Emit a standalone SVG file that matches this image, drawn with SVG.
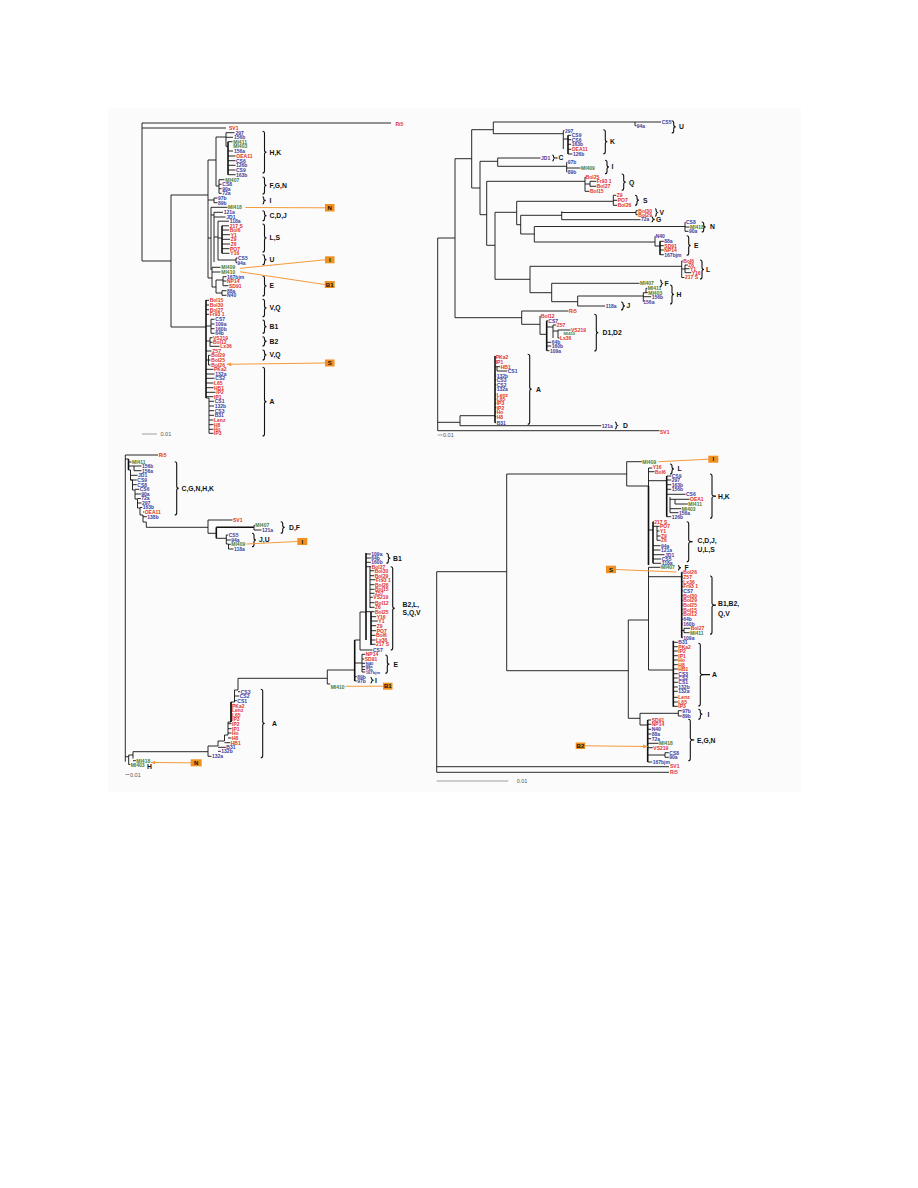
<svg xmlns="http://www.w3.org/2000/svg" width="918" height="1188" viewBox="0 0 918 1188">
<style>
.t{fill:none;stroke:#111;stroke-width:0.9}
.tk{fill:none;stroke:#111;stroke-width:1.6}
.br{fill:none;stroke:#111;stroke-width:1.1}
text{font-family:"Liberation Sans",Arial,sans-serif}
.lf text{font-size:5px;font-weight:bold}
.r{fill:#e2322b}.b{fill:#3d3d9e}.g{fill:#4e7b30}
.cl{font-size:6.8px;font-weight:bold;fill:#111}
.ob{fill:#f0901e}
.obt{font-size:6px;font-weight:bold;fill:#111;text-anchor:middle}
.oa{fill:none;stroke:#f39b3a;stroke-width:1}
.sc{stroke:#888;stroke-width:0.8}
.sct{font-size:5.5px;fill:#555}
.sm{font-size:4.2px!important}
</style>
<defs>
<marker id="ah" markerWidth="5" markerHeight="4" refX="4.5" refY="2" orient="auto" markerUnits="userSpaceOnUse"><path d="M0,0L5,2L0,4z" fill="#f39b3a"/></marker>
</defs>
<rect width="918" height="1188" fill="#fff"/>
<rect x="108" y="108" width="693" height="684" fill="#fbfbfb"/>

<!-- ===== TOP LEFT ===== -->
<g id="tl-tree">
<path class="t" d="M142,123V261M142,123H391M142,128H226M142,261H171M171,195V327M171,195H208M171,327H206M208,160V278M208,160H216M216,137V186M216,137H226M226,132.7V146.3M226,132.7H234.5M226,137.3H233M226,146.3H228M228,141.7H232.5M228,151H233M228,156H235.5M228,160.7H235.5M228,165.3H235.5M228,170H235.5M228,174.7H235.5M216,186H219M219,179.7V193.3M219,179.7H224.5M219,184.3H221.5M219,188.7H221.5M219,193.3H221.5M208,200H214M214,198V202.7M214,198H217.5M214,202.7H217.5M208,238H211M211,207.3V270M211,207.3H227.5M211,215H214M214,212.3V262M214,212.3H223M214,217H225.5M214,237H218M218,221.2V260M218,221.2H229M218,238H222M222,225.8H229M222,230H229M222,234.7H230M222,239.3H230M222,244H230M222,248.7H229.5M222,253.3H229.5M218,260H236M236,258V262.7M236,258H237.5M236,262.7H237M208,278H212M212,267.3V287M212,267.3H220.5M212,272H220.5M212,287H216M216,280V293M216,280H223M223,276.7V285.7M223,276.7H226.5M223,281H226.5M223,285.7H228.5M216,293H222M222,290.7V295.3M222,290.7H226.5M222,295.3H226.5M206,300.3H209M206,305H209M206,309.7H209M206,314.3H209M206,326H211M211,319.3V333.3M211,319.3H214.5M211,324H214.5M211,328.7H214.5M211,333.3H214.5M206,341H210M210,337.7V346.3M210,337.7H212.5M210,342.3H212.5M210,346.3H219.5M206,351H211.5M206,360H208.5M208.5,355.3V365M208.5,355.3H210.5M208.5,360H210.5M208.5,365H210.5M206,369.3H213.5M206,374H214.5M206,378.3H214.5M206,383H213.5M206,387.7H213.5M206,392.3H215.5M206,396.7H213.5M206,398H209M209,398V433.3M209,401.3H214M209,406H214M209,410.7H214M209,415.3H214M209,420H213.5M209,424.7H213.5M209,429.3H213.5M209,433.3H213.5"/>
<path class="tk" d="M228,141.7V174.7M222,225.8V253.3M206,300V398"/>
</g>
<g id="tl-leaves" class="lf">
<text x="395.5" y="125.8" class="r">Ri5</text>
<text x="229" y="130.3" class="r">SV1</text>
<text x="235.5" y="134.5" class="b">297</text>
<text x="234" y="139.1" class="b">156b</text>
<text x="233.3" y="143.5" class="g">MI411</text>
<text x="233.3" y="148.1" class="g">MI403</text>
<text x="234" y="152.8" class="b">156a</text>
<text x="236.3" y="157.8" class="r">OEA11</text>
<text x="236" y="162.5" class="b">CS6</text>
<text x="236" y="167.1" class="b">126b</text>
<text x="236" y="171.8" class="b">CS9</text>
<text x="236" y="176.5" class="b">163b</text>
<text x="225.3" y="181.5" class="g">MI407</text>
<text x="222.3" y="186.1" class="b">CS8</text>
<text x="222.3" y="190.5" class="b">90a</text>
<text x="222.3" y="195.1" class="b">72a</text>
<text x="218" y="199.8" class="b">97b</text>
<text x="218" y="204.5" class="b">89b</text>
<text x="228" y="209.1" class="g">MI418</text>
<text x="223.7" y="214.1" class="b">121a</text>
<text x="226.3" y="218.6" class="b">JD1</text>
<text x="229.7" y="222.9" class="b">118a</text>
<text x="229.7" y="227.7" class="r">217 S</text>
<text x="229.7" y="232.1" class="r">Bol6</text>
<text x="230.7" y="236.6" class="r">Y1</text>
<text x="230.7" y="241.1" class="r">Z9</text>
<text x="230.7" y="245.8" class="r">Z6</text>
<text x="230" y="250.5" class="r">PO7</text>
<text x="230.3" y="255.1" class="r">Y16</text>
<text x="238" y="259.8" class="b">CS5</text>
<text x="237.3" y="264.5" class="b">94a</text>
<text x="221.3" y="269.1" class="g">MI409</text>
<text x="221.3" y="273.8" class="g">MI410</text>
<text x="227" y="278.5" class="b">167bjm</text>
<text x="227" y="282.8" class="r">NP14</text>
<text x="229" y="287.5" class="r">SD91</text>
<text x="227" y="292.5" class="b">88a</text>
<text x="227" y="297.1" class="b">N40</text>
<text x="209.7" y="302.1" class="r">Bol15</text>
<text x="209.7" y="306.8" class="r">Bol30</text>
<text x="209.7" y="311.5" class="r">Bol27</text>
<text x="209.7" y="316.1" class="r">Fr93 1</text>
<text x="215.3" y="321.1" class="b">CS7</text>
<text x="215.3" y="325.8" class="b">109a</text>
<text x="215.3" y="330.5" class="b">160b</text>
<text x="215.3" y="335.1" class="b">64b</text>
<text x="213" y="339.5" class="r">VS219</text>
<text x="213" y="344.1" class="r">Bol12</text>
<text x="220.3" y="348.1" class="r">Lx36</text>
<text x="212.3" y="352.8" class="r">Z57</text>
<text x="211.3" y="357.1" class="r">Bol29</text>
<text x="211.3" y="361.8" class="r">Bol25</text>
<text x="211.3" y="366.8" class="r">Bol26</text>
<text x="214" y="371.1" class="r">PKa2</text>
<text x="215.3" y="375.8" class="b">132a</text>
<text x="215.3" y="380.1" class="b">CS2</text>
<text x="214" y="384.8" class="r">L65</text>
<text x="214" y="389.5" class="r">HB1</text>
<text x="216.3" y="394.1" class="r">IP2</text>
<text x="214" y="398.5" class="r">IP1</text>
<text x="214.7" y="403.1" class="b">CS1</text>
<text x="214.7" y="407.8" class="b">132b</text>
<text x="214.7" y="412.5" class="b">CS3</text>
<text x="214.7" y="417.1" class="b">B31</text>
<text x="214" y="421.8" class="r">Lenz</text>
<text x="214" y="426.5" class="r">H8</text>
<text x="214" y="431.1" class="r">Ho</text>
<text x="214" y="435.1" class="r">IP3</text>
</g>
<g id="tl-brackets">
<path class="br" d="M262.5,131.3Q264.5,131.3 264.5,133.3V150.2Q264.5,152.2 266.5,152.2Q264.5,152.2 264.5,154.2V171Q264.5,173 262.5,173M262.5,177Q264.5,177 264.5,179V183.5Q264.5,185.5 266.5,185.5Q264.5,185.5 264.5,187.5V192Q264.5,194 262.5,194M262.5,196.7Q263.7,196.7 263.7,197.9V199.15Q263.7,200.35 265.7,200.35Q263.7,200.35 263.7,201.55V202.8Q263.7,204 262.5,204M262.5,210.7Q264.5,210.7 264.5,212.7V213.7Q264.5,215.7 266.5,215.7Q264.5,215.7 264.5,217.7V218.7Q264.5,220.7 262.5,220.7M262.5,224Q264.5,224 264.5,226V236Q264.5,238 266.5,238Q264.5,238 264.5,240V250Q264.5,252 262.5,252M262.5,254.7Q264.5,254.7 264.5,256.7V257.7Q264.5,259.7 266.5,259.7Q264.5,259.7 264.5,261.7V262.7Q264.5,264.7 262.5,264.7M262.5,276Q264.5,276 264.5,278V284Q264.5,286 266.5,286Q264.5,286 264.5,288V294Q264.5,296 262.5,296M262.5,299.3Q264.5,299.3 264.5,301.3V306Q264.5,308 266.5,308Q264.5,308 264.5,310V314.7Q264.5,316.7 262.5,316.7M262.5,320Q264.5,320 264.5,322V324.65Q264.5,326.65 266.5,326.65Q264.5,326.65 264.5,328.65V331.3Q264.5,333.3 262.5,333.3M262.5,336.7Q264.5,336.7 264.5,338.7V339.35Q264.5,341.35 266.5,341.35Q264.5,341.35 264.5,343.35V344Q264.5,346 262.5,346M262.5,350Q264.5,350 264.5,352V353Q264.5,355 266.5,355Q264.5,355 264.5,357V358Q264.5,360 262.5,360M262.5,367.3Q264.5,367.3 264.5,369.3V399.65Q264.5,401.65 266.5,401.65Q264.5,401.65 264.5,403.65V434Q264.5,436 262.5,436"/>
<text class="cl" x="269.5" y="154.6">H,K</text>
<text class="cl" x="269.5" y="187.9">F,G,N</text>
<text class="cl" x="269.5" y="202.75">I</text>
<text class="cl" x="269.5" y="218.1">C,D,J</text>
<text class="cl" x="269.5" y="240.4">L,S</text>
<text class="cl" x="269.5" y="262.1">U</text>
<text class="cl" x="269.5" y="288.4">E</text>
<text class="cl" x="269.5" y="310.4">V,Q</text>
<text class="cl" x="269.5" y="329">B1</text>
<text class="cl" x="269.5" y="343.75">B2</text>
<text class="cl" x="269.5" y="357.4">V,Q</text>
<text class="cl" x="269.5" y="404">A</text>
</g>
<g id="tl-markers">
<path class="oa" marker-end="url(#ah)" d="M325,207.8L245.5,207.5M325,259.8L240,268.3M324.7,284.5L240,271.8M325,363L227,364.3"/>
<g id="tl-box-N"><rect class="ob" x="325" y="204" width="9.5" height="7.5"/><text class="obt" x="329.75" y="210">N</text></g>
<g id="tl-box-I"><rect class="ob" x="325" y="256.3" width="9.5" height="7"/><text class="obt" x="329.75" y="262">I</text></g>
<g id="tl-box-B1"><rect class="ob" x="324.7" y="281" width="10" height="7"/><text class="obt" x="329.7" y="286.6">B1</text></g>
<g id="tl-box-S"><rect class="ob" x="325" y="359.5" width="9.5" height="7"/><text class="obt" x="329.75" y="365.2">S</text></g>
</g>
<g id="tl-scale"><line class="sc" x1="142" y1="434" x2="157" y2="434"/><text class="sct" x="160.5" y="436">0.01</text></g>

<!-- ===== TOP RIGHT ===== -->
<g id="tr-tree">
<path class="t" d="M437.7,238V430.7M437.7,238H455M455,158.7V317.7M455,158.7H471.7M471.7,129.7V188M471.7,129.7H493.3M493.3,122V133.7M493.3,122H635M635,122V125.7M635,122H661M635,125.7H636.5M493.3,133.7H563.3M563.3,130.7V149M563.3,130.7H564.5M563.3,139H568M568,135.3H571.2M568,139.7H571.2M568,144.3H571.2M568,149.3H571.2M568,154H572.5M471.7,188H480M480,161.3V214.7M480,161.3H497.7M497.7,158V166.3M497.7,158H540.5M497.7,166.3H566.7M566.7,162.3V172M566.7,162.3H567.2M566.7,168H580.5M566.7,172H567.2M480,214.7H486.7M486.7,181.3V245.3M486.7,181.3H585M585,177V191.3M585,177H585.5M585,184H590M590,181.3V186.3M590,181.3H596.2M590,186.3H596.2M585,191.3H589.5M486.7,245.3H495M495,212.3V279.3M495,212.3H516.7M516.7,201.3V224.7M516.7,201.3H613.3M613.3,195.3V205.3M613.3,195.3H616.2M613.3,200.3H617.2M613.3,205.3H617.2M516.7,224.7H520.7M520.7,215.3V234M520.7,215.3H561.7M561.7,211.3V219.7M561.7,212.5H636M636,210.7V214.7M636,210.7H637.8M636,214.7H637.8M561.7,219.7H640.5M520.7,234H534.3M534.3,226.5V242M534.3,226.5H685M685,222.3V231.3M685,222.3H685.5M685,227H689.5M685,231.3H688.5M534.3,242H655M655,236.3V246M655,236.3H655.3M655,246H660M660,241.3H663.8M660,245.7H663.8M660,250H663.8M660,254.7H663.8M495,279.3H530M530,266.3V292.7M530,266.3H681.7M681.7,261V277.5M681.7,261H682.8M681.7,277.5H684.5M681.7,269H685M685,265V272.7M685,265H687.8M685,268.7H689.5M685,272.7H691.2M530,292.7H551.7M551.7,283.3V301.7M551.7,283.3H639.5M551.7,301.7H577.7M577.7,296V306M577.7,296H643.3M643.3,292.7V301.7M643.3,292.7H647.8M643.3,296.7H651.2M643.3,301.7H643.5M646,288.3V292.7M646,288.3H647.2M577.7,306H605.2M455,317.7H521.7M521.7,311V324.3M521.7,311H568.5M521.7,324.3H540M540,316V334.3M540,316H540.5M540,334.3H546.7M546.7,320.7H547.8M546.7,327H553M553,325V338M553,325H556.2M553,331H558M558,330V338M558,330H570.5M558,338H559.5M546.7,342.3H551.2M546.7,346H551.2M546.7,350.7H549.5M437.7,422.3H460M460,415.7V425.7M460,415.7H495M495,357.3H495.2M495,361.7H495.2M495,366.7H497M497,366.7V371M497,366.7H500.2M497,371H507.2M495,376H496.2M495,380H496.2M495,384.7H496.2M495,389H496.2M495,394.7H496.2M495,399H496.2M495,403.3H496.2M495,407.7H496.2M495,412H496.2M495,416.7H496.2M495,422.7H496.2M460,425.7H601.2M437.7,430.7H659.5"/>
<path class="tk" d="M568,135.3V154M546.7,320.7V350.7M495,356V422.7M660,241.3V254.7"/>
</g>
<g id="tr-leaves" class="lf">
<text x="661.7" y="123.8" class="b">CS5</text>
<text x="636.7" y="127.5" class="b">94a</text>
<text x="565" y="132.5" class="b">297</text>
<text x="571.7" y="137.1" class="b">CS9</text>
<text x="571.7" y="141.5" class="b">CS6</text>
<text x="571.7" y="146.1" class="b">163b</text>
<text x="571.7" y="151.1" class="r">OEA11</text>
<text x="573" y="155.8" class="b">126b</text>
<text x="541" y="159.8" class="b">JD1</text>
<text x="567.7" y="164.1" class="b">97b</text>
<text x="581" y="169.8" class="g">MI409</text>
<text x="567.7" y="173.8" class="b">89b</text>
<text x="585.7" y="178.8" class="r">Bol25</text>
<text x="596.7" y="183.1" class="r">Fr93 1</text>
<text x="596.7" y="188.1" class="r">Bol27</text>
<text x="590" y="193.1" class="r">Bol15</text>
<text x="616.7" y="197.1" class="r">Z9</text>
<text x="617.7" y="202.1" class="r">PO7</text>
<text x="617.7" y="207.1" class="r">Bol26</text>
<text x="638.3" y="212.5" class="r">Bol30</text>
<text x="638.3" y="216.5" class="r">Bol29</text>
<text x="641" y="221.1" class="b">72a</text>
<text x="686" y="224.1" class="b">CS8</text>
<text x="690" y="228.8" class="g">MI418</text>
<text x="689" y="233.1" class="b">90a</text>
<text x="655.7" y="238.1" class="b">N40</text>
<text x="664.3" y="243.1" class="b">88a</text>
<text x="664.3" y="247.5" class="r">SD91</text>
<text x="664.3" y="251.8" class="r">NP14</text>
<text x="664.3" y="256.5" class="b">167bjm</text>
<text x="683.3" y="262.8" class="r">Bol6</text>
<text x="688.3" y="266.8" class="r">Z6</text>
<text x="690" y="270.5" class="r">Y1</text>
<text x="691.7" y="274.5" class="r">Y16</text>
<text x="685" y="279.3" class="r">217 S</text>
<text x="640" y="285.1" class="g">MI407</text>
<text x="647.7" y="290.1" class="g">MI411</text>
<text x="648.3" y="294.5" class="g">MI403</text>
<text x="651.7" y="298.5" class="b">156b</text>
<text x="643.3" y="303.5" class="b">156a</text>
<text x="605.7" y="307.8" class="b">118a</text>
<text x="569" y="312.8" class="r">Ri5</text>
<text x="541" y="317.8" class="r">Bol12</text>
<text x="548.3" y="322.5" class="b">CS7</text>
<text x="556.7" y="326.8" class="r">Z57</text>
<text x="571" y="331.8" class="r">VS219</text>
<text x="563.5" y="335" class="g sm">MI410</text>
<text x="560" y="339.8" class="r">Lx36</text>
<text x="551.7" y="344.1" class="b">64b</text>
<text x="551.7" y="347.8" class="b">160b</text>
<text x="550" y="352.5" class="b">109a</text>
<text x="495.7" y="359.1" class="r">PKa2</text>
<text x="495.7" y="363.5" class="r">IP1</text>
<text x="500.7" y="368.5" class="r">HB1</text>
<text x="507.7" y="372.8" class="b">CS1</text>
<text x="496.7" y="377.8" class="b">132b</text>
<text x="496.7" y="381.8" class="b">CS3</text>
<text x="496.7" y="386.5" class="b">CS2</text>
<text x="496.7" y="390.8" class="b">132a</text>
<text x="496.7" y="396.5" class="r">Lenz</text>
<text x="496.7" y="400.8" class="r">L65</text>
<text x="496.7" y="405.1" class="r">IP3</text>
<text x="496.7" y="409.5" class="r">IP2</text>
<text x="496.7" y="413.8" class="r">Ho</text>
<text x="496.7" y="418.5" class="r">H8</text>
<text x="496.7" y="424.5" class="b">B31</text>
<text x="601.7" y="427.5" class="b">121a</text>
<text x="660" y="433.5" class="r">SV1</text>
</g>
<g id="tr-brackets">
<path class="br" d="M671.7,120.7Q673.7,120.7 673.7,122.7V124.85Q673.7,126.85 675.7,126.85Q673.7,126.85 673.7,128.85V131Q673.7,133 671.7,133M603.3,129.7Q605.3,129.7 605.3,131.7V139.7Q605.3,141.7 607.3,141.7Q605.3,141.7 605.3,143.7V151.7Q605.3,153.7 603.3,153.7M552.3,155Q553.5,155 553.5,156.2V156.8Q553.5,158 555.5,158Q553.5,158 553.5,159.2V159.8Q553.5,161 552.3,161M605,160.3Q607,160.3 607,162.3V165Q607,167 609,167Q607,167 607,169V171.7Q607,173.7 605,173.7M621.7,174Q623.7,174 623.7,176V180.15Q623.7,182.15 625.7,182.15Q623.7,182.15 623.7,184.15V188.3Q623.7,190.3 621.7,190.3M635,195.3Q637,195.3 637,197.3V198.3Q637,200.3 639,200.3Q637,200.3 637,202.3V203.3Q637,205.3 635,205.3M655,208.7Q656.2,208.7 656.2,209.9V211.3Q656.2,212.5 658.2,212.5Q656.2,212.5 656.2,213.7V215.1Q656.2,216.3 655,216.3M651.5,216.8Q652.7,216.8 652.7,218V218.2Q652.7,219.4 654.7,219.4Q652.7,219.4 652.7,220.6V220.8Q652.7,222 651.5,222M701.7,222Q703.7,222 703.7,224V225Q703.7,227 705.7,227Q703.7,227 703.7,229V230Q703.7,232 701.7,232M686.7,235.7Q688.7,235.7 688.7,237.7V243.5Q688.7,245.5 690.7,245.5Q688.7,245.5 688.7,247.5V253.3Q688.7,255.3 686.7,255.3M700,260Q702,260 702,262V267.5Q702,269.5 704,269.5Q702,269.5 702,271.5V277Q702,279 700,279M660,280Q661.2,280 661.2,281.2V282.3Q661.2,283.5 663.2,283.5Q661.2,283.5 661.2,284.7V285.8Q661.2,287 660,287M670,285Q672,285 672,287V292.5Q672,294.5 674,294.5Q672,294.5 672,296.5V302Q672,304 670,304M621,302Q623,302 623,304V304Q623,306 625,306Q623,306 623,308V308Q623,310 621,310M594.3,314.3Q596.3,314.3 596.3,316.3V330.65Q596.3,332.65 598.3,332.65Q596.3,332.65 596.3,334.65V349Q596.3,351 594.3,351M527.7,354.3Q529.7,354.3 529.7,356.3V387.3Q529.7,389.3 531.7,389.3Q529.7,389.3 529.7,391.3V422.3Q529.7,424.3 527.7,424.3M615,422Q616.2,422 616.2,423.2V424.3Q616.2,425.5 618.2,425.5Q616.2,425.5 616.2,426.7V427.8Q616.2,429 615,429"/>
<path class="br" d="M555.5,158H557.5"/>
<text class="cl" x="679" y="129.25">U</text>
<text class="cl" x="610" y="144.1">K</text>
<text class="cl" x="558.5" y="160.4">C</text>
<text class="cl" x="611.5" y="169.4">I</text>
<text class="cl" x="629" y="184.55">Q</text>
<text class="cl" x="643" y="202.7">S</text>
<text class="cl" x="659.5" y="214.9">V</text>
<text class="cl" x="656" y="221.8">G</text>
<text class="cl" x="710" y="229.4">N</text>
<text class="cl" x="694" y="247.9">E</text>
<text class="cl" x="706" y="271.9">L</text>
<text class="cl" x="664.5" y="285.9">F</text>
<text class="cl" x="676.5" y="296.9">H</text>
<text class="cl" x="626.5" y="308.4">J</text>
<text class="cl" x="602.5" y="335.05">D1,D2</text>
<text class="cl" x="536" y="391.7">A</text>
<text class="cl" x="623" y="427.9">D</text>
</g>
<g id="tr-scale"><line class="sc" x1="437.7" y1="435" x2="442.5" y2="435"/><text class="sct" x="443" y="437">0.01</text></g>

<!-- ===== BOTTOM LEFT ===== -->
<g id="bl-tree">
<path class="t" d="M125.3,455V761.7M125.3,455H158M125.3,459H128.5V470H130.5V480H132.5V490H135V499H137.5V508H140V515H143V522H146.3V527.3M128.5,462H131.5M128.5,466H134M134,466V470.7M134,466H141.5M134,470.7H141.5M130.5,475.3H137.5M130.5,480H136.8M132.5,484.7H136.8M135,489.3H139.2M135,494H140.8M137.5,498.5H140.8M137.5,503H141.5M140,507.5H142.2M143,512H144.2M143,516.7H146.8M146.3,527.3H208M208,520V533.3M208,520H232.5M208,533.3H216.3M254,525.3V530M254,525.3H254.8M254,530H261.5M216.3,538.3H226.3M226.3,535V544M226.3,535H228.2M226.3,540H230.8M226.3,544H228.5M228.5,544V549M228.5,544.3H230.8M228.5,549H233.5M125.3,756.7H128.7M128.7,755V764.5M128.7,755H133M133,751.7V758.5M133,751.7H208M133,760.7H135.8M128.7,764.5H130.2M208,756.3V746H218V741H224.5V735H228V722H231V702H234.5V690H238V678.3H327.3M208,756.3H211.5M218,751.3H220.8M218,747.3H225.8M224.5,742.7H230.2M228,738H231.5M228,733H231.5M228,728.7H231.5M228,723.7H231.5M234.5,700.7H236.8M234.5,696H239.2M238,691.7H240.2M327.3,670V684M327.3,684H330.2M327.3,670H354.7M354.7,676.7H356.8M354.7,681H356.8M354.7,663H362M362,654.3V672M362,654.3H365.2M362,659H364.2M362,663.3H365.2M362,666.7H365.2M362,669.5H365.2M362,672H365.2M354.7,640H360M360,612V650M360,612H366M360,650H372.5M366,554H370.8M366,558H370.8M366,562.3H370.8M366,566.7H371.2M370,566.7V608M370,570.7H374.2M370,575.7H374.2M370,579.7H375.5M370,584.7H374.5M370,589.3H374.5M370,593.3H374.5M370,597.3H372.8M370,602.7H374.5M370,607.3H374.5M366,611.7H371M371,611.7H374.5M371,616.7H376.2M371,621H377.8M371,625.7H376.2M371,630.7H376.2M371,635.3H375.5M371,640H375.5M371,644.3H375.5"/>
<path class="tk" d="M216.3,527.3V538.3M216.3,527.3H254M128.5,459V470M366,553V640M371,611.7V645M231,702V722M354.7,640V681"/>
</g>
<g id="bl-leaves" class="lf">
<text x="158.7" y="457.3" class="r">Ri5</text>
<text x="132" y="463.8" class="g">MI411</text>
<text x="142" y="467.8" class="b">156b</text>
<text x="142" y="472.5" class="b">156a</text>
<text x="138" y="477.1" class="b">JD1</text>
<text x="137.3" y="481.8" class="b">CS9</text>
<text x="137.3" y="486.5" class="b">CS8</text>
<text x="139.7" y="491.1" class="b">CS6</text>
<text x="141.3" y="495.8" class="b">90a</text>
<text x="141.3" y="500.3" class="b">72a</text>
<text x="142" y="504.8" class="b">297</text>
<text x="142.7" y="509.3" class="b">163b</text>
<text x="144.7" y="513.8" class="r">OEA11</text>
<text x="147.3" y="518.5" class="b">138b</text>
<text x="233" y="522.3" class="r">SV1</text>
<text x="255.3" y="527.1" class="g">MI407</text>
<text x="262" y="531.8" class="b">121a</text>
<text x="228.7" y="536.8" class="b">CS5</text>
<text x="231.3" y="541.8" class="b">94a</text>
<text x="231.3" y="546.1" class="g">MI409</text>
<text x="234" y="550.8" class="b">118a</text>
<text x="371.3" y="555.8" class="b">109a</text>
<text x="371.3" y="559.8" class="b">64b</text>
<text x="371.3" y="564.1" class="b">160b</text>
<text x="371.7" y="568.5" class="r">Bol27</text>
<text x="374.7" y="572.5" class="r">Bol30</text>
<text x="374.7" y="577.5" class="r">Bol29</text>
<text x="376" y="581.5" class="r">Fr93 1</text>
<text x="375" y="586.5" class="r">Bol26</text>
<text x="375" y="591.1" class="r">Bol15</text>
<text x="375" y="595.1" class="r">Z57</text>
<text x="373.3" y="599.1" class="r">VS219</text>
<text x="375" y="604.5" class="r">Bol12</text>
<text x="375" y="609.1" class="r">Z6</text>
<text x="375" y="613.5" class="r">Bol25</text>
<text x="376.7" y="618.5" class="r">Y16</text>
<text x="378.3" y="622.8" class="r">Y1</text>
<text x="376.7" y="627.5" class="r">Z9</text>
<text x="376.7" y="632.5" class="r">PO7</text>
<text x="376" y="637.1" class="r">Bol6</text>
<text x="376" y="641.8" class="r">Lx36</text>
<text x="376" y="646.1" class="r">217 S</text>
<text x="373" y="651.8" class="b">CS7</text>
<text x="365.7" y="656.1" class="r">NP14</text>
<text x="364.7" y="660.8" class="r">SD91</text>
<text x="365.7" y="664.8" class="b sm">N40</text>
<text x="365.7" y="668.2" class="b sm">88a</text>
<text x="365.7" y="671" class="b sm">72a</text>
<text x="365.7" y="673.9" class="b sm">167bjm</text>
<text x="357.3" y="678.5" class="b">89b</text>
<text x="357.3" y="682.8" class="b">97b</text>
<text x="330.7" y="688.5" class="g">MI410</text>
<text x="240.7" y="693.5" class="b">CS3</text>
<text x="239.7" y="697.8" class="b">CS2</text>
<text x="237.3" y="702.5" class="b">CS1</text>
<text x="232" y="707.5" class="r">PKa2</text>
<text x="232" y="712.1" class="r">Lenz</text>
<text x="232" y="716.8" class="r">L65</text>
<text x="232" y="721.1" class="r">IP3</text>
<text x="232" y="725.5" class="r">IP2</text>
<text x="232" y="730.5" class="r">IP1</text>
<text x="232" y="734.8" class="r">Ho</text>
<text x="232" y="739.8" class="r">H8</text>
<text x="230.7" y="744.5" class="r">HB1</text>
<text x="226.3" y="749.1" class="b">B31</text>
<text x="221.3" y="753.1" class="b">132b</text>
<text x="212" y="758.1" class="b">132a</text>
<text x="136.3" y="762.5" class="g">MI418</text>
<text x="130.7" y="767.1" class="g">MI403</text>
</g>
<g id="bl-brackets">
<path class="br" d="M174.7,461.7Q176.7,461.7 176.7,463.7V486.35Q176.7,488.35 178.7,488.35Q176.7,488.35 176.7,490.35V513Q176.7,515 174.7,515M280.7,521.7Q282.7,521.7 282.7,523.7V525.5Q282.7,527.5 284.7,527.5Q282.7,527.5 282.7,529.5V531.3Q282.7,533.3 280.7,533.3M252,533.3Q254,533.3 254,535.3V538Q254,540 256,540Q254,540 254,542V544.7Q254,546.7 252,546.7M386.3,553.3Q388.3,553.3 388.3,555.3V556.3Q388.3,558.3 390.3,558.3Q388.3,558.3 388.3,560.3V561.3Q388.3,563.3 386.3,563.3M390.7,566.7Q392.7,566.7 392.7,568.7V606.35Q392.7,608.35 394.7,608.35Q392.7,608.35 392.7,610.35V648Q392.7,650 390.7,650M385.3,655Q387.3,655 387.3,657V662.15Q387.3,664.15 389.3,664.15Q387.3,664.15 387.3,666.15V671.3Q387.3,673.3 385.3,673.3M370.5,677.5Q371.7,677.5 371.7,678.7V679.05Q371.7,680.25 373.7,680.25Q371.7,680.25 371.7,681.45V681.8Q371.7,683 370.5,683M260.7,689.3Q262.7,689.3 262.7,691.3V721.5Q262.7,723.5 264.7,723.5Q262.7,723.5 262.7,725.5V755.7Q262.7,757.7 260.7,757.7"/>
<text class="cl" x="181.5" y="490.75">C,G,N,H,K</text>
<text class="cl" x="289" y="529.9">D,F</text>
<text class="cl" x="259" y="542.4">J,U</text>
<text class="cl" x="393" y="560.7">B1</text>
<text class="cl" x="402.5" y="606.5">B2,L,</text>
<text class="cl" x="402.5" y="615">S,Q,V</text>
<text class="cl" x="393.5" y="666.6">E</text>
<text class="cl" x="375" y="682.6">I</text>
<text class="cl" x="272" y="725.9">A</text>
<text class="cl" x="147" y="768.5">H</text>
</g>
<g id="bl-markers">
<path class="oa" marker-end="url(#ah)" d="M297.3,541.5L246.5,544M383,686.2L345.5,686.3M190.7,762.8L151,762.5"/>
<g id="bl-box-I"><rect class="ob" x="297.3" y="538" width="10" height="7"/><text class="obt" x="302.3" y="543.7">I</text></g>
<g id="bl-box-B1"><rect class="ob" x="383" y="682.7" width="9.5" height="7"/><text class="obt" x="387.75" y="688.4">B1</text></g>
<g id="bl-box-N"><rect class="ob" x="190.7" y="759.3" width="11" height="7"/><text class="obt" x="196.2" y="765">N</text></g>
</g>
<g id="bl-scale"><line class="sc" x1="125.3" y1="774.5" x2="129.5" y2="774.5"/><text class="sct" x="130" y="776.5">0.01</text></g>

<!-- ===== BOTTOM RIGHT ===== -->
<g id="br-tree">
<path class="t" d="M436.7,571.7V772.3M436.7,571.7H506.7M506.7,474V670.7M506.7,474H626.7M626.7,461.7V486M626.7,461.7H641.8M626.7,486H648.5M648.5,468V486M648.5,468H652.2M648.5,471.7H654.5M648.5,480.7H666.7M666.7,476H671.2M666.7,480H671.2M666.7,484.7H671.2M666.7,489.3H671.2M666.7,494.3H685.5M666.7,516.7H671.2M670,497V512.7M670,499.3H675M675,499.3V504M675,499.3H689.5M675,504H687.8M670,508.7H681.2M670,512.7H678.5M648.5,530H653M653,521.7H653.8M653,526.3H657M657,526.3V540.3M657,526.3H659.5M657,531H659.5M657,536H660.5M657,540.3H660.5M653,545.7H660.5M653,550H660.5M653,554.7H664.5M653,559H661.2M653,563.3H661.2M648.5,567.3V670M648.5,567.3H660.5M648.5,576.7H681.7M681.7,572.3H682.8M681.7,577H682.8M681.7,581.7H682.8M681.7,586.3H682.8M681.7,590.7H682.8M681.7,595.7H682.8M681.7,600.3H682.8M681.7,605H682.8M681.7,609.7H682.8M681.7,614H682.8M681.7,619.3H682.8M681.7,624H682.8M681.7,630.5H684M684,628.3V632.7M684,628.3H690.2M684,632.7H689.5M681.7,637.7H682.8M648.5,670H673.3M673.3,642.3H677.8M673.3,646.7H677.8M673.3,651H677.8M673.3,655.7H677.8M673.3,660H677.8M673.3,664.7H677.8M673.3,669H677.8M673.3,673.7H677.8M673.3,678H677.8M673.3,682.3H677.8M673.3,687H677.8M673.3,691.3H677.8M673.3,697.3H677.8M673.3,702H677.8M673.3,706.3H677.8M506.7,670.7H628.3M628.3,620V718.3M628.3,620H648.5M628.3,718.3H640M640,713.3V725M640,713.3H678.3M678.3,710.7V716M678.3,710.7H681.8M678.3,716H681.8M640,725H647.7M647.7,720H651.2M647.7,724.3H651.2M647.7,729.3H651.2M647.7,734H651.2M647.7,738.7H651.2M647.7,743.3H658.5M647.7,747.7H652.8M647.7,755H665M665,752.7V757.3M665,752.7H668.8M665,757.3H668.8M647.7,762H652.2M436.7,766.7H669M436.7,772.3H669"/>
<path class="tk" d="M666.7,476V516.7M653,521.7V563.3M681.7,572.3V637.7M673.3,640.7V706.7M647.7,720V762M648.5,486V565"/>
</g>
<g id="br-leaves" class="lf">
<text x="642.3" y="463.5" class="g">MI409</text>
<text x="652.7" y="468.5" class="r">Y16</text>
<text x="655" y="473.5" class="r">Bol6</text>
<text x="671.7" y="477.8" class="b">CS9</text>
<text x="671.7" y="481.8" class="b">297</text>
<text x="671.7" y="486.5" class="b">163b</text>
<text x="671.7" y="491.1" class="b">156b</text>
<text x="686" y="496.1" class="b">CS6</text>
<text x="690" y="501.1" class="r">OEA1</text>
<text x="688.3" y="505.8" class="g">MI411</text>
<text x="681.7" y="510.5" class="g">MI403</text>
<text x="679" y="514.5" class="b">156a</text>
<text x="671.7" y="518.5" class="b">126b</text>
<text x="654.3" y="523.5" class="r">217 S</text>
<text x="660" y="528.1" class="r">PO7</text>
<text x="660" y="532.8" class="r">Y1</text>
<text x="661" y="537.8" class="r">Z9</text>
<text x="661" y="542.1" class="r">Z6</text>
<text x="661" y="547.5" class="b">94a</text>
<text x="661" y="551.8" class="b">121a</text>
<text x="665" y="556.5" class="b">JD1</text>
<text x="661.7" y="560.8" class="b">CS5</text>
<text x="661.7" y="565.1" class="b">118a</text>
<text x="661" y="569.1" class="g">MI407</text>
<text x="683.3" y="574.1" class="r">Bol26</text>
<text x="683.3" y="578.8" class="r">Z57</text>
<text x="683.3" y="583.5" class="r">Lx36</text>
<text x="683.3" y="588.1" class="r">Fr93 1</text>
<text x="683.3" y="592.5" class="b">CS7</text>
<text x="683.3" y="597.5" class="r">Bol30</text>
<text x="683.3" y="602.1" class="r">Bol29</text>
<text x="683.3" y="606.8" class="r">Bol25</text>
<text x="683.3" y="611.5" class="r">Bol15</text>
<text x="683.3" y="615.8" class="r">Bol12</text>
<text x="683.3" y="621.1" class="b">64b</text>
<text x="683.3" y="625.8" class="b">160b</text>
<text x="690.7" y="630.1" class="r">Bol27</text>
<text x="690" y="634.5" class="g">MI411</text>
<text x="683.3" y="639.5" class="b">109a</text>
<text x="678.3" y="644.1" class="b">B31</text>
<text x="678.3" y="648.5" class="r">PKa2</text>
<text x="678.3" y="652.8" class="r">IP2</text>
<text x="678.3" y="657.5" class="r">IP1</text>
<text x="678.3" y="661.8" class="r">Ho</text>
<text x="678.3" y="666.5" class="r">H8</text>
<text x="678.3" y="670.8" class="r">HB1</text>
<text x="678.3" y="675.5" class="b">CS3</text>
<text x="678.3" y="679.8" class="b">CS2</text>
<text x="678.3" y="684.1" class="b">CS1</text>
<text x="678.3" y="688.8" class="b">132b</text>
<text x="678.3" y="693.1" class="b">132a</text>
<text x="678.3" y="699.1" class="r">Lenz</text>
<text x="678.3" y="703.8" class="r">L65</text>
<text x="678.3" y="708.1" class="r">IP3</text>
<text x="682.3" y="712.5" class="b">97b</text>
<text x="682.3" y="717.8" class="b">89b</text>
<text x="651.7" y="721.8" class="r">SD91</text>
<text x="651.7" y="726.1" class="r">NP14</text>
<text x="651.7" y="731.1" class="b">N40</text>
<text x="651.7" y="735.8" class="b">88a</text>
<text x="651.7" y="740.5" class="b">72a</text>
<text x="659" y="745.1" class="g">MI418</text>
<text x="653.3" y="749.5" class="r">VS219</text>
<text x="669.3" y="754.5" class="b">CS8</text>
<text x="669.3" y="759.1" class="b">90a</text>
<text x="652.7" y="763.8" class="b">167bjm</text>
<text x="670" y="768.1" class="r">SV1</text>
<text x="670" y="773.8" class="r">Ri5</text>
</g>
<g id="br-brackets">
<path class="br" d="M670,464Q672,464 672,466V467Q672,469 674,469Q672,469 672,471V472Q672,474 670,474M710,474Q712,474 712,476V494.15Q712,496.15 716,496.15Q712,496.15 712,498.15V516.3Q712,518.3 710,518.3M686.7,521.7Q688.7,521.7 688.7,523.7V539.7Q688.7,541.7 692.7,541.7Q688.7,541.7 688.7,543.7V559.7Q688.7,561.7 686.7,561.7M678,565.5Q679,565.5 679,566.5V566.75Q679,567.75 681,567.75Q679,567.75 679,568.75V569Q679,570 678,570M710,576Q712,576 712,578V603.15Q712,605.15 716,605.15Q712,605.15 712,607.15V632.3Q712,634.3 710,634.3M698.3,643.3Q700.3,643.3 700.3,645.3V672.65Q700.3,674.65 704.3,674.65Q700.3,674.65 700.3,676.65V704Q700.3,706 698.3,706M704.3,674.65H710M698.3,709.3Q700.3,709.3 700.3,711.3V712.3Q700.3,714.3 702.3,714.3Q700.3,714.3 700.3,716.3V717.3Q700.3,719.3 698.3,719.3M688.3,719.3Q690.3,719.3 690.3,721.3V738Q690.3,740 694.3,740Q690.3,740 690.3,742V758.7Q690.3,760.7 688.3,760.7"/>
<text class="cl" x="677.5" y="471.4">L</text>
<text class="cl" x="718" y="498.55">H,K</text>
<text class="cl" x="697.5" y="542.6">C,D,J,</text>
<text class="cl" x="697.5" y="551.5">U,L,S</text>
<text class="cl" x="684.5" y="570.2">F</text>
<text class="cl" x="718" y="606.4">B1,B2,</text>
<text class="cl" x="718" y="616.4">Q,V</text>
<text class="cl" x="712" y="677">A</text>
<text class="cl" x="707.5" y="716.7">I</text>
<text class="cl" x="697" y="743">E,G,N</text>
</g>
<g id="br-markers">
<path class="oa" marker-end="url(#ah)" d="M708.3,459.2L658.5,461.7M616,569.5L676.5,572M585.2,745.8L647.5,746.5"/>
<g id="br-box-I"><rect class="ob" x="708.3" y="455.7" width="10" height="7"/><text class="obt" x="713.3" y="461.4">I</text></g>
<g id="br-box-S"><rect class="ob" x="606" y="565.7" width="10" height="7.5"/><text class="obt" x="611" y="571.6">S</text></g>
<g id="br-box-B2"><rect class="ob" x="575.7" y="742.5" width="9.5" height="6.5"/><text class="obt" x="580.45" y="747.8">B2</text></g>
</g>
<g id="br-scale"><line class="sc" x1="436.7" y1="781" x2="508.3" y2="781"/><text class="sct" x="516.7" y="783">0.01</text></g>
</svg>
